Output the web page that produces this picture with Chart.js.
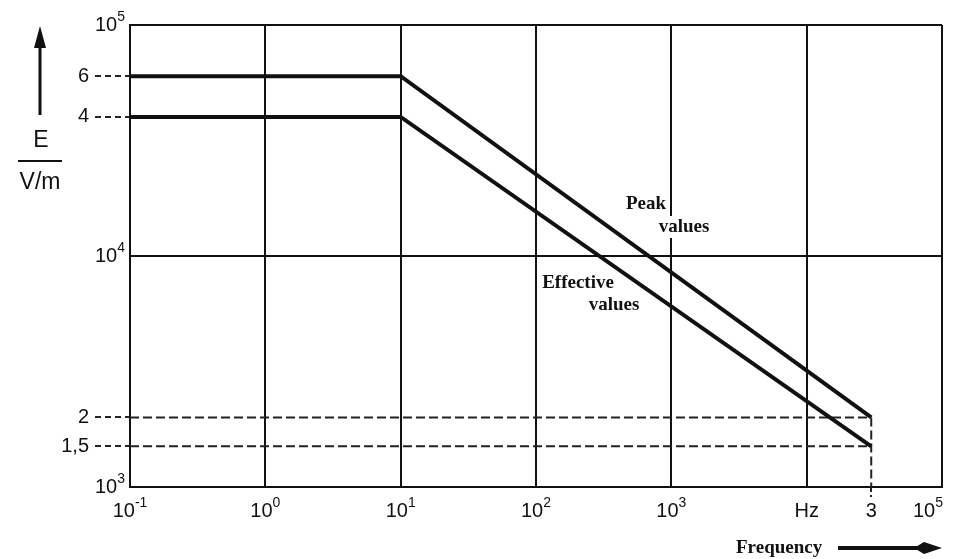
<!DOCTYPE html>
<html>
<head>
<meta charset="utf-8">
<script src="https://cdn.jsdelivr.net/npm/chart.js@4/dist/chart.umd.min.js"></script>
<style>
    html, body { margin: 0; padding: 0; background: #fff; }
    #wrap { width: 955px; height: 559px; }
</style>
</head>
<body>
<div id="wrap"><canvas id="feldChart"></canvas></div>
<script>
// Frequency break points (Hz) and field strength limits (V/m)
const breakFreqs = [0.1, 10, 30000];
const peakValues = [60000, 60000, 2000];
const effectiveValues = [40000, 40000, 1500];

// Tick positions and their labels ("^" marks the exponent)
const xTicks = [0.1, 1, 10, 100, 1000, 10000, 30000, 100000];
const xTickLabels = ['10^-1', '10^0', '10^1', '10^2', '10^3', 'Hz', '3', '10^5'];
const yTicks = [1000, 1500, 2000, 10000, 40000, 60000, 100000];
const yTickLabels = ['10^3', '1,5', '2', '10^4', '4', '6', '10^5'];

// Annotations on the curves
const notes = [
    { text: 'Peak', x: 646, y: 204 },
    { text: 'values', x: 684, y: 227 },
    { text: 'Effective', x: 578, y: 283 },
    { text: 'values', x: 614, y: 305 }
];

const sansFont = '"Liberation Sans", Arial, sans-serif';
const serifFont = '"Liberation Serif", "Times New Roman", serif';

const isDecade = v => Math.abs(Math.log10(v) - Math.round(Math.log10(v))) < 1e-9;

const toPoints = (xs, ys) => xs.map((x, i) => ({ x: x, y: ys[i] }));

// draws "10" with a raised exponent, or a plain label
function drawPower(ctx, label, x, y, align) {
    const parts = label.split('^');
    ctx.font = '20px ' + sansFont;
    const bw = ctx.measureText(parts[0]).width;
    let sw = 0;
    if (parts[1]) {
        ctx.font = '14px ' + sansFont;
        sw = ctx.measureText(parts[1]).width;
    }
    const left = align === 'right' ? x - bw - sw : x - (bw + sw) / 2;
    ctx.textAlign = 'left';
    ctx.textBaseline = 'middle';
    ctx.font = '20px ' + sansFont;
    ctx.fillText(parts[0], left, y);
    if (parts[1]) {
        ctx.font = '14px ' + sansFont;
        ctx.fillText(parts[1], left + bw, y - 8);
    }
}

const customDraw = {
    id: 'customDraw',
    beforeDatasetsDraw(chart) {
        const ctx = chart.ctx;
        ctx.save();
        ctx.font = 'bold 19px ' + serifFont;
        ctx.textAlign = 'center';
        ctx.textBaseline = 'middle';
        notes.forEach(n => {
            const w = ctx.measureText(n.text).width;
            ctx.fillStyle = '#fff';
            ctx.fillRect(n.x - w / 2 - 3, n.y - 11, w + 6, 22);
            ctx.fillStyle = '#111';
            ctx.fillText(n.text, n.x, n.y);
        });
        ctx.restore();
    },
    afterDraw(chart) {
        const ctx = chart.ctx;
        const xs = chart.scales.x;
        const ys = chart.scales.y;
        ctx.save();
        ctx.fillStyle = '#111';
        ctx.strokeStyle = '#111';

        // tick labels
        xTicks.forEach((v, i) => {
            const last = i === xTicks.length - 1;
            drawPower(ctx, xTickLabels[i], xs.getPixelForValue(v) + (last ? 1 : 0), 511, last ? 'right' : 'center');
        });
        yTicks.forEach((v, i) => {
            const px = isDecade(v) ? 125 : 89;
            drawPower(ctx, yTickLabels[i], px, ys.getPixelForValue(v), 'right');
        });

        // y axis title E / (V/m) with arrow
        ctx.font = '23px ' + sansFont;
        ctx.textAlign = 'center';
        ctx.textBaseline = 'middle';
        ctx.fillText('E', 41, 141);
        ctx.fillText('V/m', 40, 183);
        ctx.lineWidth = 2;
        ctx.beginPath();
        ctx.moveTo(18, 161);
        ctx.lineTo(62, 161);
        ctx.stroke();
        ctx.lineWidth = 3;
        ctx.beginPath();
        ctx.moveTo(40, 115);
        ctx.lineTo(40, 42);
        ctx.stroke();
        ctx.beginPath();
        ctx.moveTo(40, 26);
        ctx.lineTo(34, 48);
        ctx.lineTo(46, 48);
        ctx.closePath();
        ctx.fill();

        // x axis title with arrow
        ctx.font = 'bold 19px ' + serifFont;
        ctx.textAlign = 'left';
        ctx.fillText('Frequency', 736, 548);
        ctx.lineWidth = 4;
        ctx.beginPath();
        ctx.moveTo(838, 548);
        ctx.lineTo(920, 548);
        ctx.stroke();
        ctx.beginPath();
        ctx.moveTo(942, 548);
        ctx.lineTo(924, 542);
        ctx.lineTo(914, 548);
        ctx.lineTo(924, 554);
        ctx.closePath();
        ctx.fill();
        ctx.restore();
    }
};

const ctx = document.getElementById('feldChart').getContext('2d');
new Chart(ctx, {
    type: 'line',
    data: {
        datasets: [
            {
                label: 'Peak values',
                data: toPoints(breakFreqs, peakValues),
                borderColor: '#111',
                borderWidth: 4
            },
            {
                label: 'Effective values',
                data: toPoints(breakFreqs, effectiveValues),
                borderColor: '#111',
                borderWidth: 4
            },
            {
                label: 'peak end',
                data: toPoints([xTicks[0], breakFreqs[2]], [peakValues[2], peakValues[2]]),
                borderColor: '#222',
                borderWidth: 2,
                borderDash: [9, 4]
            },
            {
                label: 'effective end',
                data: toPoints([xTicks[0], breakFreqs[2]], [effectiveValues[2], effectiveValues[2]]),
                borderColor: '#222',
                borderWidth: 2,
                borderDash: [9, 4]
            },
            {
                label: 'cut-off',
                data: toPoints([breakFreqs[2], breakFreqs[2]], [peakValues[2], yTicks[0]]),
                borderColor: '#222',
                borderWidth: 2,
                borderDash: [9, 4]
            }
        ]
    },
    options: {
        responsive: true,
        maintainAspectRatio: false,
        animation: false,
        parsing: false,
        elements: {
            point: { radius: 0 },
            line: { tension: 0, fill: false }
        },
        layout: { padding: { top: 25, right: 13, left: 0, bottom: 0 } },
        plugins: {
            legend: { display: false },
            tooltip: { enabled: false }
        },
        scales: {
            x: {
                type: 'logarithmic',
                min: 0.1,
                max: 100000,
                afterBuildTicks: scale => { scale.ticks = xTicks.map(v => ({ value: v })); },
                afterFit: scale => { scale.height = 72; },
                ticks: { display: false, autoSkip: false },
                border: { display: true, color: '#111', width: 2 },
                grid: {
                    color: c => (c.tick && c.tick.value === 30000) ? 'rgba(0,0,0,0)' : '#111',
                    lineWidth: 2,
                    drawTicks: true,
                    tickLength: 10,
                    tickColor: c => (c.tick && c.tick.value === 30000) ? '#222' : 'rgba(0,0,0,0)',
                    tickWidth: 2,
                    tickBorderDash: [4, 3]
                }
            },
            y: {
                type: 'logarithmic',
                min: 1000,
                max: 100000,
                afterBuildTicks: scale => { scale.ticks = yTicks.map(v => ({ value: v })); },
                afterFit: scale => { scale.width = 130; },
                ticks: { display: false, autoSkip: false },
                border: { display: true, color: '#111', width: 2 },
                grid: {
                    color: c => (c.tick && isDecade(c.tick.value)) ? '#111' : 'rgba(0,0,0,0)',
                    lineWidth: 2,
                    drawTicks: true,
                    tickLength: 35,
                    tickColor: c => (c.tick && !isDecade(c.tick.value)) ? '#222' : 'rgba(0,0,0,0)',
                    tickWidth: 2,
                    tickBorderDash: [6, 4]
                }
            }
        }
    },
    plugins: [customDraw]
});
</script>
</body>
</html>
